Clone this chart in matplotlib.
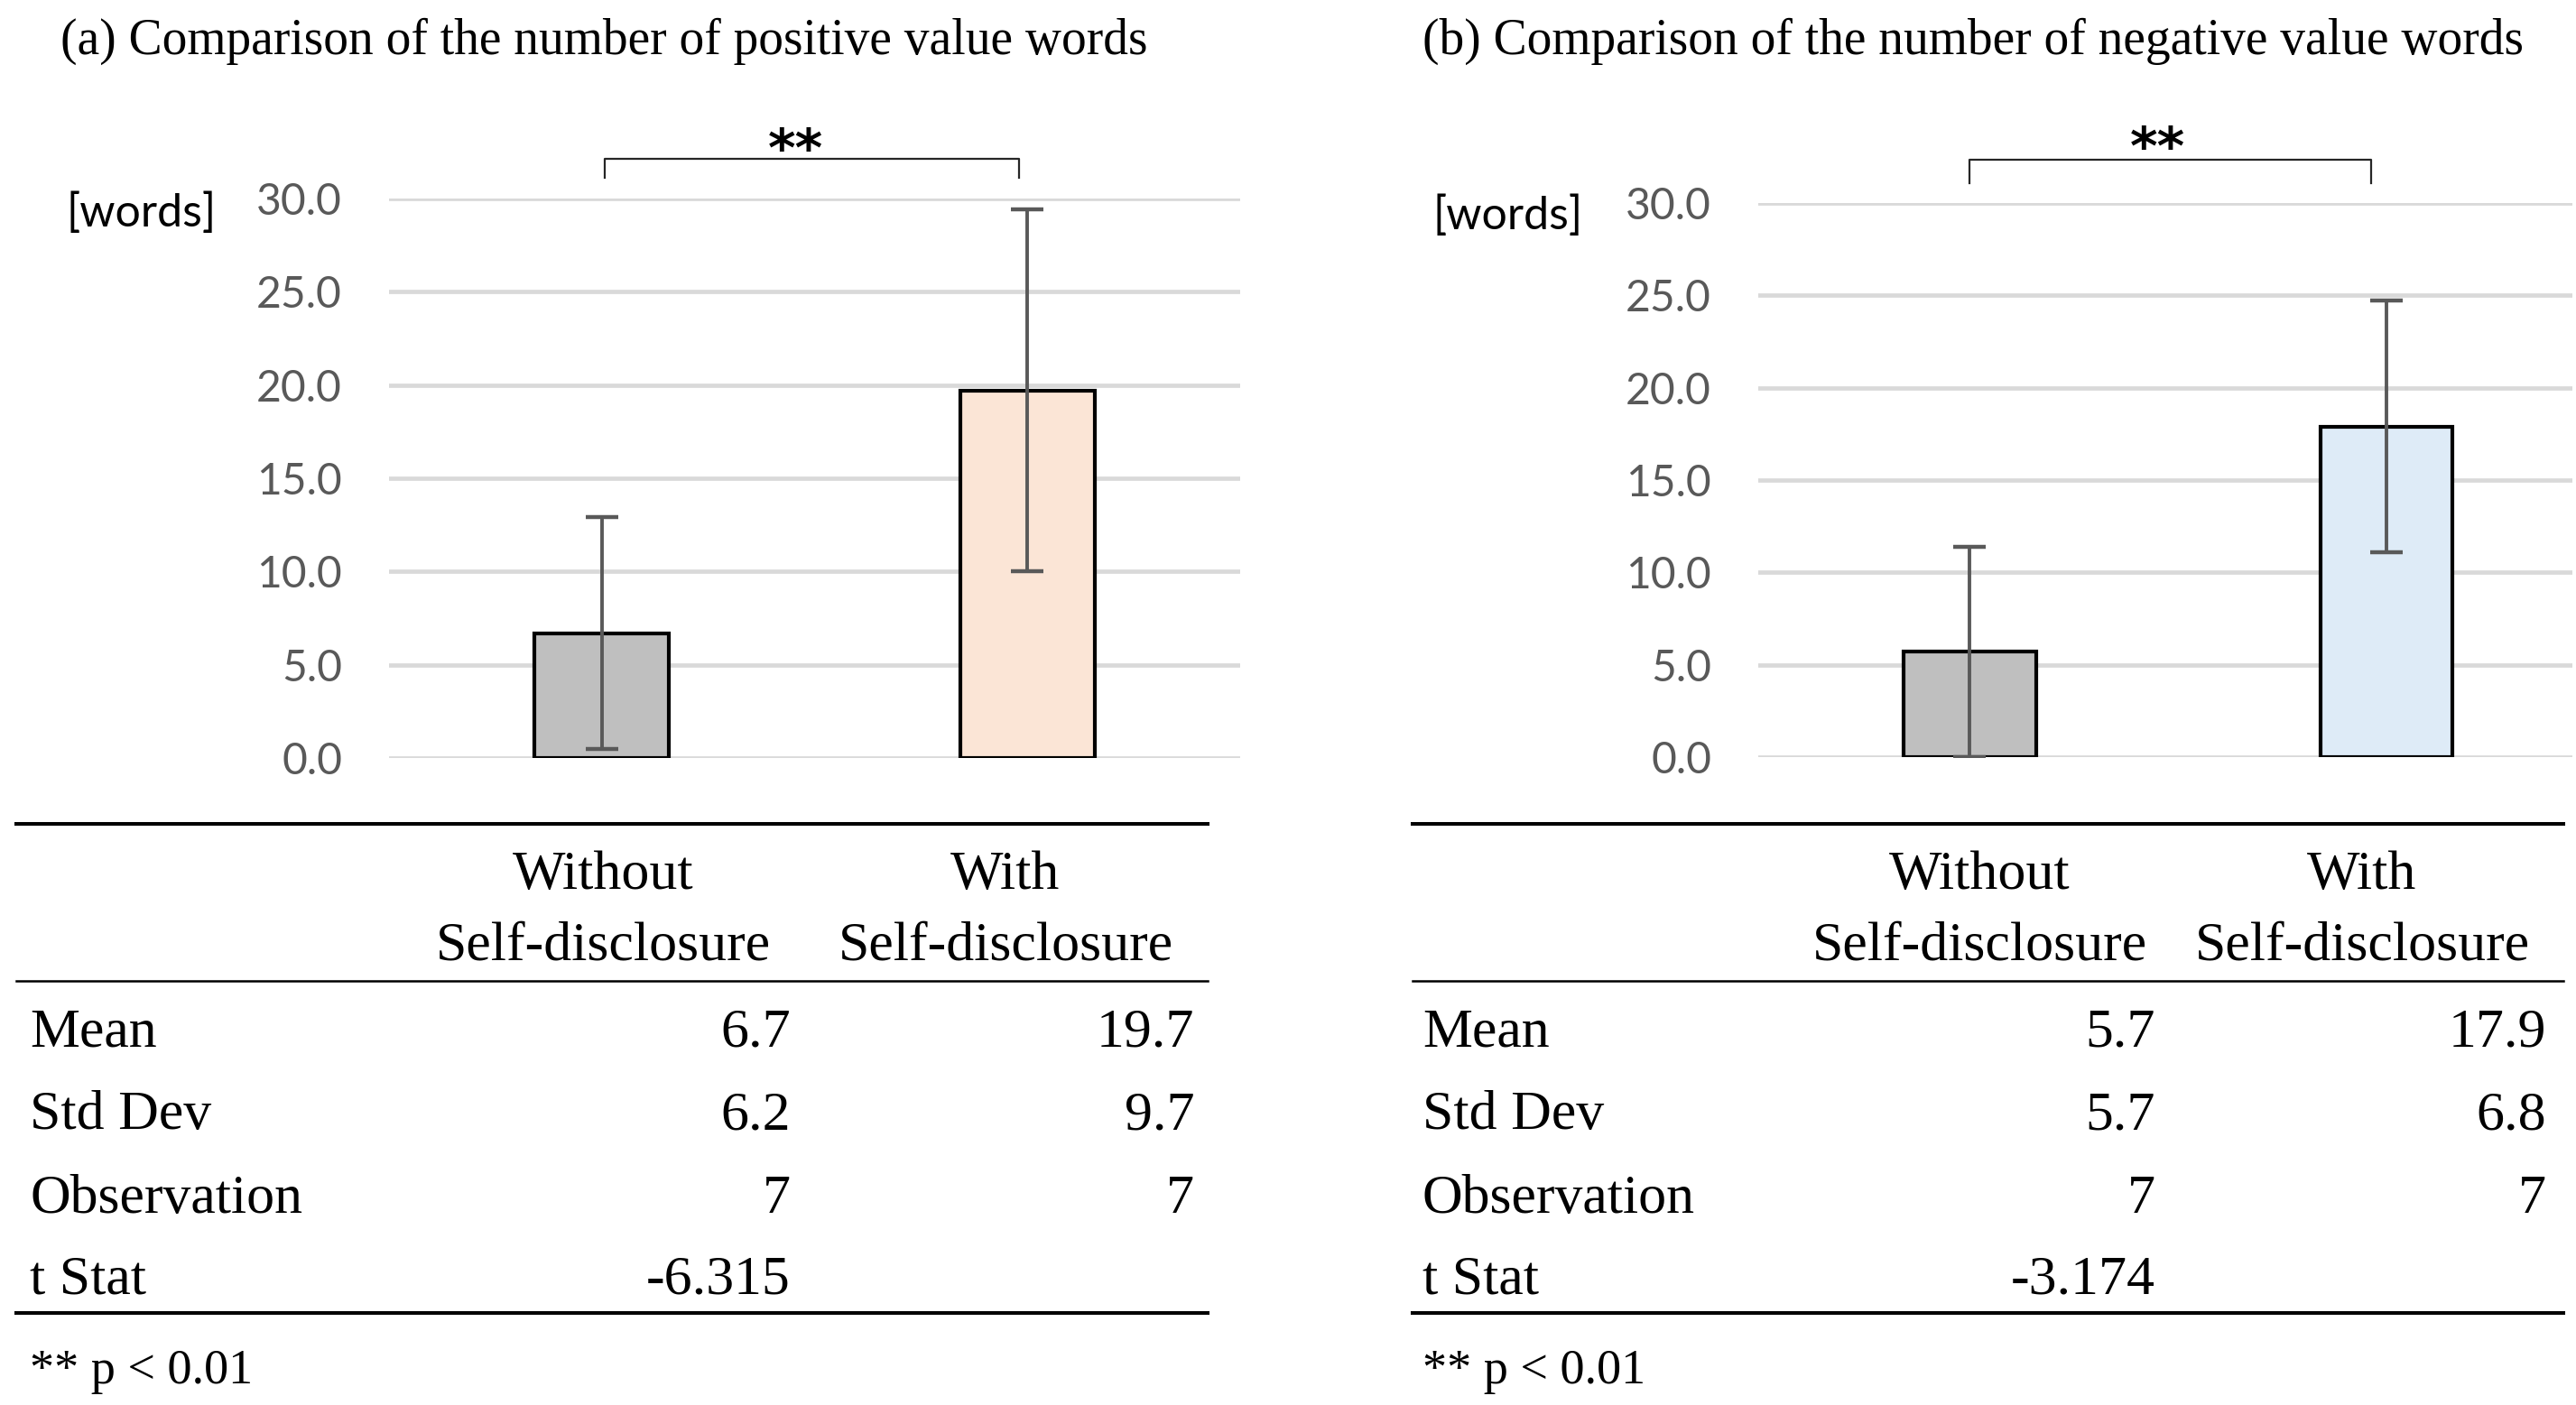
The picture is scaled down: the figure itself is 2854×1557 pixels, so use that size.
import matplotlib.pyplot as plt
from matplotlib.lines import Line2D

# figure size in pixels
W, H = 2854, 1557
DPI = 200

# data
groups = ['Without\nSelf-disclosure', 'With\nSelf-disclosure']
row_names = ['Mean', 'Std Dev', 'Observation', 't Stat']
pos_mean = [6.7, 19.7]
pos_std = [6.2, 9.7]
pos_n = [7, 7]
pos_t = -6.315
neg_mean = [5.7, 17.9]
neg_std = [5.7, 6.8]
neg_n = [7, 7]
neg_t = -3.174
yticks = [0, 5, 10, 15, 20, 25, 30]

SERIF = 'Liberation Serif'
SANS = 'Lato'

fig = plt.figure(figsize=(W / DPI, H / DPI), dpi=DPI)


def fx(x):
    return x / W


def fy(y):
    return 1 - y / H


panels = [
    dict(title='(a) Comparison of the number of positive value words',
         mean=pos_mean, std=pos_std, n=pos_n, t=pos_t, color2='#FBE5D6',
         title_x=67, box=(431, 220, 1374, 840), xlim=(-0.5, 1.5),
         words=(73, 237), star=(881, 184), bracket=(0.006, 0.98, 31.1, 32.13),
         rule=(18, 1338), lab_x=33, head_cx=(668, 1114), val_rx=(876, 1323)),
    dict(title='(b) Comparison of the number of negative value words',
         mean=neg_mean, std=neg_std, n=neg_n, t=neg_t, color2='#DEEBF7',
         title_x=1576, box=(1948, 225, 2850, 839), xlim=(-0.508, 1.447),
         words=(1587, 240), star=(2390, 182), bracket=(0.0, 0.963, 31.07, 32.34),
         rule=(1565, 2840), lab_x=1576, head_cx=(2193, 2617), val_rx=(2388, 2821)),
]

for p in panels:
    l, t, r, b = p['box']
    ax = fig.add_axes([fx(l), fy(b), fx(r) - fx(l), fy(t) - fy(b)])
    x = range(len(p['mean']))

    # barras
    ax.bar(x, p['mean'], width=0.317, color=['#BFBFBF', p['color2']],
           edgecolor='black', linewidth=1.5, zorder=2)
    ax.errorbar(x, p['mean'], yerr=p['std'], fmt='none', ecolor='#595959',
                elinewidth=1.4, capsize=6.5, capthick=1.6, zorder=3)

    ax.set_xlim(*p['xlim'])
    ax.set_ylim(0, 30)
    ax.set_yticks(yticks)
    ax.set_yticklabels([f'{v:.1f}' for v in yticks], fontfamily=SANS,
                       fontsize=17.3, color='#595959')
    ax.set_xticks([])
    ax.tick_params(axis='y', length=0, pad=18.7)
    ax.grid(axis='y', color='#D9D9D9', linewidth=1.7, zorder=0)
    ax.set_axisbelow(True)
    for s in ax.spines.values():
        s.set_visible(False)

    # corchete de significancia
    x0, x1, y0, y1 = p['bracket']
    ax.plot([x0, x0, x1, x1], [y0, y1, y1, y0], color='#262626',
            linewidth=0.8, clip_on=False)
    fig.text(fx(p['star'][0]), fy(p['star'][1]), '**', fontfamily='DejaVu Sans',
             fontweight='bold', fontsize=21, ha='center', va='baseline')

    fig.text(fx(p['words'][0]), fy(p['words'][1]), '[words]',
             fontfamily=SANS, fontsize=18, ha='left', va='center')

    # titulo
    fig.text(fx(p['title_x']), fy(60), p['title'], fontfamily=SERIF,
             fontsize=20, ha='left', va='baseline')

    # tabla
    rx0, rx1 = p['rule']
    for y, lw in [(913, 1.45), (1087, 0.9), (1455, 1.45)]:
        fig.add_artist(Line2D([fx(rx0), fx(rx1)], [fy(y), fy(y)],
                              color='black', linewidth=lw))

    for cx, g in zip(p['head_cx'], groups):
        for yb, line in zip([985, 1063], g.split('\n')):
            fig.text(fx(cx), fy(yb), line, fontfamily=SERIF, fontsize=22.3,
                     ha='center', va='baseline')

    rows = [
        [f'{v:.1f}' for v in p['mean']],
        [f'{v:.1f}' for v in p['std']],
        [str(v) for v in p['n']],
        [f'{p["t"]:.3f}', ''],
    ]
    for yb, name, vals in zip([1160, 1251, 1344, 1433], row_names, rows):
        fig.text(fx(p['lab_x']), fy(yb), name, fontfamily=SERIF,
                 fontsize=22.3, ha='left', va='baseline')
        for rxv, v in zip(p['val_rx'], vals):
            fig.text(fx(rxv), fy(yb), v, fontfamily=SERIF, fontsize=22.3,
                     ha='right', va='baseline')

    fig.text(fx(p['lab_x']), fy(1533), '** p < 0.01', fontfamily=SERIF,
             fontsize=19.5, ha='left', va='baseline')

fig.savefig('out.png', dpi=DPI)
